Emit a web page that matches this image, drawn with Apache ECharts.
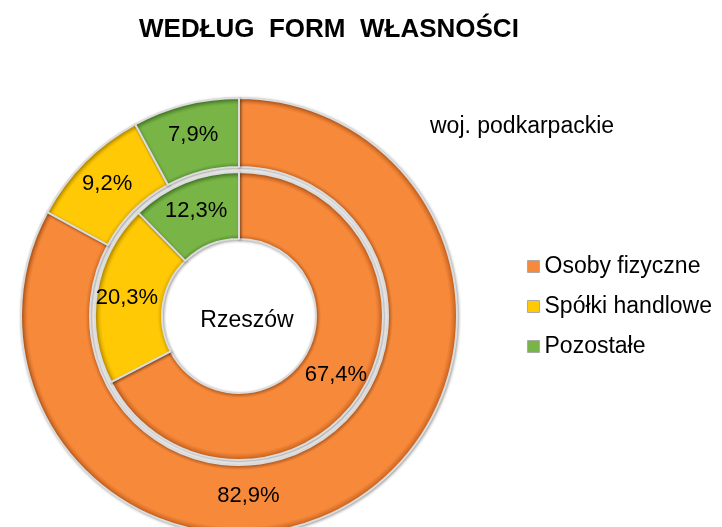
<!DOCTYPE html>
<html>
<head>
<meta charset="utf-8">
<script src="https://cdn.jsdelivr.net/npm/echarts@6/dist/echarts.min.js"></script>
<style>html,body{margin:0;padding:0;background:#fff;}#c{width:722px;height:527px;}</style>
</head>
<body>
<div id="c"></div>
<script>
const categories = ['Osoby fizyczne', 'Spółki handlowe', 'Pozostałe'];
const outerValues = [82.9, 9.2, 7.9];   // woj. podkarpackie
const innerValues = [67.4, 20.3, 12.3]; // Rzeszów
const titleText = 'WEDŁUG  FORM  WŁASNOŚCI';
const outerName = 'woj. podkarpackie';
const innerName = 'Rzeszów';

const baseColors = ['#F7893A', '#FFCA05', '#79B546'];
const darkColors = ['#D46C26', '#E0AC00', '#5A9634'];
const FONT = '"Liberation Sans", Arial, Helvetica, sans-serif';
const CX = 239, CY = 316;

function bevel(i, r0, r1) {
  return {
    type: 'radial', x: CX, y: CY, r: r1, global: true,
    colorStops: [
      { offset: r0 / r1, color: darkColors[i] },
      { offset: (r0 + 5) / r1, color: baseColors[i] },
      { offset: (r1 - 7) / r1, color: baseColors[i] },
      { offset: (r1 - 2) / r1, color: darkColors[i] },
      { offset: 1, color: darkColors[i] }
    ]
  };
}
function fmt(p) { return p.value.toFixed(1).replace('.', ',') + '%'; }
function mkData(vals, r0, r1) {
  return vals.map((v, i) => ({
    name: categories[i], value: v,
    itemStyle: { color: bevel(i, r0, r1) }
  }));
}

const chart = echarts.init(document.getElementById('c'), null, { renderer: 'canvas' });
chart.setOption({
  animation: false,
  backgroundColor: '#ffffff',
  color: baseColors,
  title: [
    { text: titleText, left: 134, top: 12,
      textStyle: { fontFamily: FONT, fontSize: 26, fontWeight: 'bold', color: '#000' } },
    { text: outerName, left: 425, top: 110,
      textStyle: { fontFamily: FONT, fontSize: 23, fontWeight: 'normal', color: '#000' } },
    { text: innerName, left: 242, top: 304, textAlign: 'center',
      textStyle: { fontFamily: FONT, fontSize: 23, fontWeight: 'normal', color: '#000' } }
  ],
  legend: {
    orient: 'vertical', left: 522, top: 250,
    itemWidth: 12, itemHeight: 12, itemGap: 17, icon: 'rect',
    data: categories.map((n, i) => ({ name: n, itemStyle: { color: baseColors[i], borderColor: '#aaa', borderWidth: 1 } })),
    textStyle: { fontFamily: FONT, fontSize: 23, color: '#000' }
  },
  series: [
    {
      name: outerName, type: 'pie', center: [CX, CY], radius: [149, 218],
      startAngle: 90, clockwise: true, avoidLabelOverlap: false,
      itemStyle: { borderColor: '#dcdcdc', borderWidth: 2, shadowColor: 'rgba(0,0,0,0.3)', shadowBlur: 3, shadowOffsetX: 1, shadowOffsetY: 1 },
      label: { show: true, position: 'inside', formatter: fmt, fontFamily: FONT, fontSize: 22, color: '#000' },
      labelLayout: function (p) { return p.dataIndex === 0 ? { dx: -86, dy: 20 } : {}; },
      labelLine: { show: false },
      emphasis: { disabled: true },
      data: mkData(outerValues, 149, 218)
    },
    {
      name: innerName, type: 'pie', center: [CX, CY], radius: [77, 144],
      startAngle: 90, clockwise: true, avoidLabelOverlap: false,
      itemStyle: { borderColor: '#dcdcdc', borderWidth: 2, shadowColor: 'rgba(0,0,0,0.3)', shadowBlur: 3, shadowOffsetX: 1, shadowOffsetY: 1 },
      label: { show: true, position: 'inside', formatter: fmt, fontFamily: FONT, fontSize: 22, color: '#000' },
      labelLine: { show: false },
      emphasis: { disabled: true },
      data: mkData(innerValues, 77, 144)
    }
  ]
});
</script>
</body>
</html>
